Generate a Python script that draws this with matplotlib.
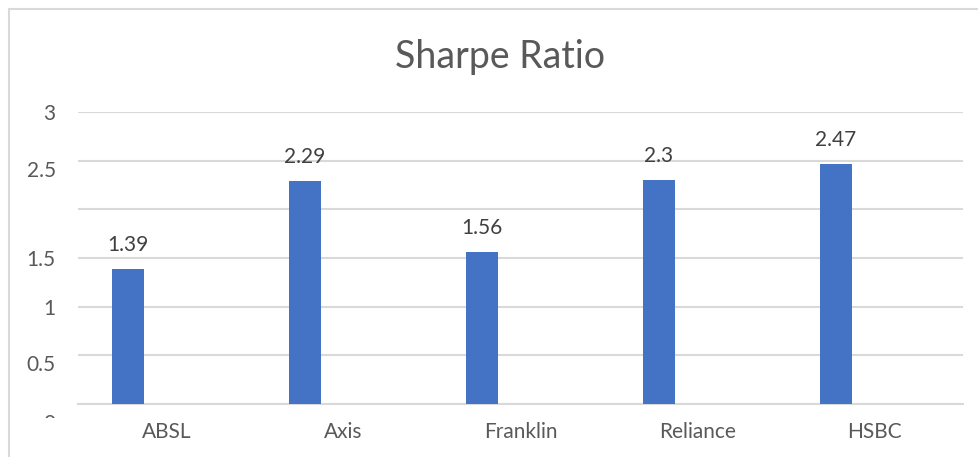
import numpy as np
import matplotlib
matplotlib.use("Agg")
import matplotlib.pyplot as plt
from matplotlib.patches import Rectangle
from matplotlib.transforms import ScaledTranslation

# data
funds = ["ABSL", "Axis", "Franklin", "Reliance", "HSBC"]
sharpe = [1.39, 2.29, 1.56, 2.3, 2.47]
value_labels = ["1.39", "2.29", "1.56", "2.3", "2.47"]
yticks = [0, 0.5, 1, 1.5, 2, 2.5, 3]
ytick_labels = ["0", "0.5", "1", "1.5", "", "2.5", "3"]

plt.rcParams['font.family'] = ['Lato', 'DejaVu Sans']

W, H = 979, 457
fig = plt.figure(figsize=(W / 100, H / 100), dpi=100)

# chart border (runs off the right / bottom edge)
border = Rectangle((9 / W, -0.1), 1.2, (H - 9) / H + 0.1, transform=fig.transFigure,
                   fill=False, edgecolor="#d9d9d9", linewidth=1.5)
fig.patches.append(border)

ax = fig.add_axes([78 / W, (H - 404) / H, 885 / W, 292 / H])

x = np.arange(len(funds))
offset = -0.2175
bars = ax.bar(x + offset, sharpe, width=0.18, color="#4472C4", zorder=3)

for xi, v, lab in zip(x, sharpe, value_labels):
    ax.annotate(lab, (xi + offset, v), xytext=(0, 10), textcoords="offset points",
                ha="center", va="bottom", fontsize=15, color="#404040")

ax.set_xlim(-0.5, len(funds) - 0.5)
ax.set_ylim(0, 3)
ax.set_xticks(x)
ax.set_xticklabels(funds, fontsize=15, color="#595959")
ax.set_yticks(yticks)
ax.set_yticklabels(ytick_labels, fontsize=15, color="#595959")
ax.tick_params(axis="both", length=0)
ax.tick_params(axis="y", pad=16)
ax.tick_params(axis="x", pad=13)

ax.grid(axis="y", color="#d9d9d9", linewidth=1.5, zorder=0)
for s in ["top", "right", "left"]:
    ax.spines[s].set_visible(False)
ax.spines["bottom"].set_color("#d9d9d9")
ax.spines["bottom"].set_linewidth(1.5)
ax.set_facecolor("none")

# some y labels sit a bit low in the original, the 0 is mostly cut off
shifts = {"0": -18, "0.5": -8, "2.5": -8}
clip = Rectangle((0, (H - 418) / H), 1, 1, transform=fig.transFigure)
for lbl, txt in zip(ax.get_yticklabels(), ytick_labels):
    if txt in shifts:
        lbl.set_transform(lbl.get_transform() +
                          ScaledTranslation(0, shifts[txt] / 100, fig.dpi_scale_trans))
    if txt == "0":
        lbl.set_clip_path(clip)

fig.text(500 / W, 1 - 57 / H, "Sharpe Ratio", ha="center", va="center",
         fontsize=27, color="#595959")

fig.savefig("out.png", dpi=100)
